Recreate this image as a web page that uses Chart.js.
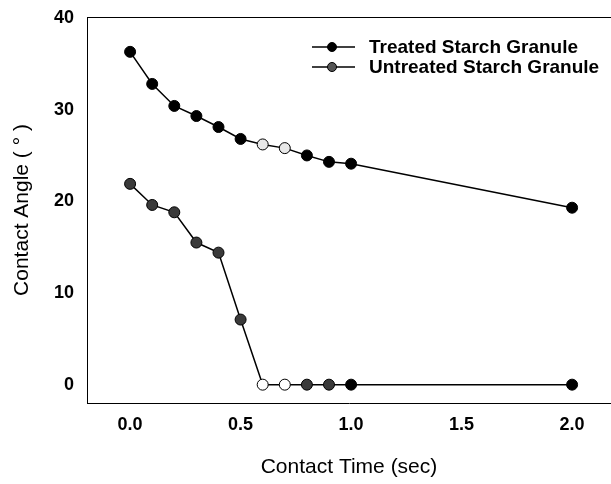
<!DOCTYPE html>
<html>
<head>
<meta charset="utf-8">
<script src="https://cdn.jsdelivr.net/npm/chart.js@4.4.1/dist/chart.umd.min.js"></script>
<style>
  html, body { margin: 0; padding: 0; background: #fff; }
  #wrap { width: 611px; height: 484px; position: relative; }
</style>
</head>
<body>
<div id="wrap"><canvas id="c" width="611" height="484"></canvas></div>
<script>
// ---- data ----
const contactTime = [0.0, 0.1, 0.2, 0.3, 0.4, 0.5, 0.6, 0.7, 0.8, 0.9, 1.0, 2.0];
const treatedAngle = [36.3, 32.8, 30.4, 29.3, 28.1, 26.8, 26.2, 25.8, 25.0, 24.3, 24.1, 19.3];
const untreatedAngle = [21.9, 19.6, 18.8, 15.5, 14.4, 7.1, 0, 0, 0, 0, 0, 0];
const seriesLabels = ['Treated Starch Granule', 'Untreated Starch Granule'];
const xTickValues = [0.0, 0.5, 1.0, 1.5, 2.0];
const yTickValues = [0, 10, 20, 30, 40];

// ---- styles ----
const treatedFill = ['#000','#000','#000','#000','#000','#000','#e8e8e8','#e8e8e8','#000','#000','#000','#000'];
const untreatedFill = ['#3a3a3a','#3a3a3a','#3a3a3a','#3a3a3a','#3a3a3a','#3a3a3a','#fff','#fff','#3a3a3a','#3a3a3a','#000','#000'];
const FONT = "'Liberation Sans', Arial, sans-serif";

const toPts = (ys) => contactTime.map((x, i) => ({ x: x, y: ys[i] }));

const extras = {
  id: 'extras',
  afterDraw(chart) {
    const ctx = chart.ctx;
    const a = chart.chartArea;
    ctx.save();
    // top border
    ctx.strokeStyle = '#000';
    ctx.lineWidth = 1;
    ctx.beginPath();
    ctx.moveTo(a.left, a.top + 0.5);
    ctx.lineTo(a.right, a.top + 0.5);
    ctx.stroke();
    // legend
    const rows = [47, 67];
    chart.data.datasets.forEach((ds, i) => {
      const y = rows[i];
      ctx.strokeStyle = '#000';
      ctx.lineWidth = 1.5;
      ctx.beginPath();
      ctx.moveTo(312, y);
      ctx.lineTo(355, y);
      ctx.stroke();
      ctx.beginPath();
      ctx.arc(332, y, 4.5, 0, Math.PI * 2);
      ctx.fillStyle = i === 0 ? '#000' : '#555';
      ctx.fill();
      ctx.lineWidth = 1;
      ctx.stroke();
      ctx.fillStyle = '#000';
      ctx.font = 'bold 19px ' + FONT;
      ctx.textBaseline = 'middle';
      ctx.textAlign = 'left';
      ctx.fillText(ds.label, 369, y + 1);
    });
    ctx.restore();
  }
};

new Chart(document.getElementById('c'), {
  type: 'scatter',
  data: {
    datasets: [
      {
        label: seriesLabels[0],
        data: toPts(treatedAngle),
        showLine: true,
        borderColor: '#000',
        borderWidth: 1.5,
        pointRadius: 5.5,
        pointBackgroundColor: treatedFill,
        pointBorderColor: '#000',
        pointBorderWidth: 1
      },
      {
        label: seriesLabels[1],
        data: toPts(untreatedAngle),
        showLine: true,
        borderColor: '#000',
        borderWidth: 1.5,
        pointRadius: 5.5,
        pointBackgroundColor: untreatedFill,
        pointBorderColor: '#000',
        pointBorderWidth: 1
      }
    ]
  },
  options: {
    responsive: false,
    animation: false,
    layout: { autoPadding: false, padding: { top: 17, right: 0, left: 0, bottom: 0 } },
    plugins: { legend: { display: false }, tooltip: { enabled: false } },
    scales: {
      x: {
        type: 'linear',
        min: -0.195,
        max: 2.176,
        afterBuildTicks(s) { s.ticks = xTickValues.map(v => ({ value: v })); },
        afterFit(s) { s.height = 81; s.paddingRight = 0; s.paddingLeft = 0; },
        grid: { display: false, drawOnChartArea: false, drawTicks: true, tickLength: 5, tickColor: '#000' },
        border: { display: true, color: '#000', width: 1 },
        ticks: {
          color: '#000',
          font: { family: FONT, size: 18, weight: 'bold' },
          padding: 6,
          maxRotation: 0,
          callback: v => Number(v).toFixed(1)
        },
        title: {
          display: true,
          text: 'Contact Time (sec)',
          color: '#000',
          font: { family: FONT, size: 21 },
          padding: { top: 10 }
        }
      },
      y: {
        type: 'linear',
        min: -2,
        max: 40.1,
        afterBuildTicks(s) { s.ticks = yTickValues.map(v => ({ value: v })); },
        afterFit(s) { s.width = 87; s.paddingTop = 0; s.paddingBottom = 0; },
        grid: { display: false, drawOnChartArea: false, drawTicks: true, tickLength: 5, tickColor: '#000' },
        border: { display: true, color: '#000', width: 1 },
        ticks: {
          color: '#000',
          font: { family: FONT, size: 18, weight: 'bold' },
          padding: 8
        },
        title: {
          display: true,
          text: 'Contact Angle ( ° )',
          color: '#000',
          font: { family: FONT, size: 21 },
          padding: { top: 10, bottom: 4 }
        }
      }
    }
  },
  plugins: [extras]
});
</script>
</body>
</html>
